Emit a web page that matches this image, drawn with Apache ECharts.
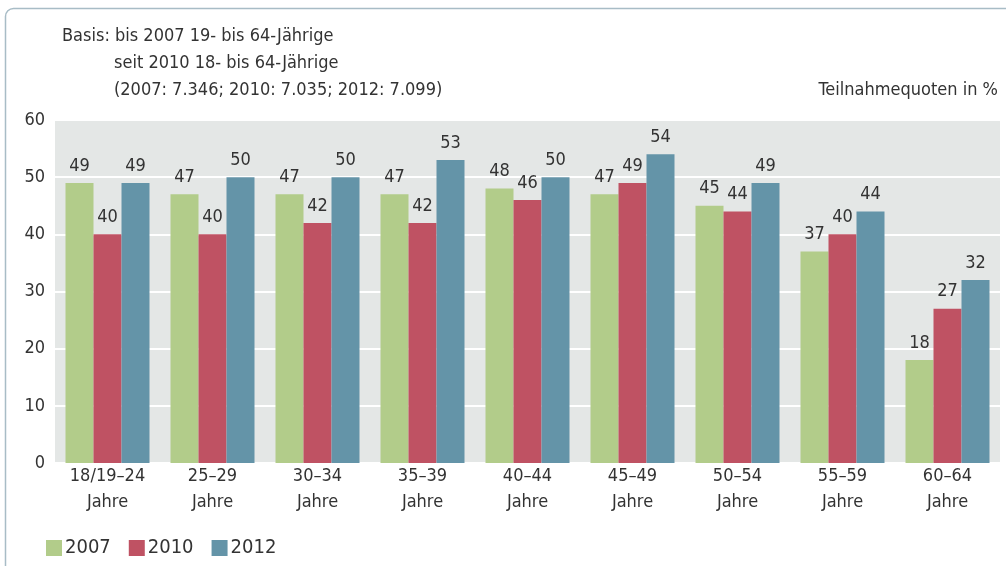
<!DOCTYPE html>
<html>
<head>
<meta charset="utf-8">
<script src="https://cdn.jsdelivr.net/npm/echarts@6/dist/echarts.min.js"></script>
<style>
  html, body { margin: 0; padding: 0; background: #fff; }
  #chart { width: 1006px; height: 566px; }
</style>
</head>
<body>
<div id="chart"></div>
<script>
// Altersgruppen
const categories = ['18/19–24\nJahre', '25–29\nJahre', '30–34\nJahre', '35–39\nJahre', '40–44\nJahre',
  '45–49\nJahre', '50–54\nJahre', '55–59\nJahre', '60–64\nJahre']
const values2007 = [49, 47, 47, 47, 48, 47, 45, 37, 18]
const values2010 = [40, 40, 42, 42, 46, 49, 44, 40, 27]
const values2012 = [49, 50, 50, 53, 50, 54, 49, 44, 32]
const seriesNames = ['2007', '2010', '2012']
const noteLines = ['Basis: bis 2007 19- bis 64-Jährige', 'seit 2010 18- bis 64-Jährige', '(2007: 7.346; 2010: 7.035; 2012: 7.099)']

const font = '"Liberation Sans Narrow", "DejaVu Sans Condensed", "Noto Sans", sans-serif'
const textColor = '#333'
const colors = ['#b2cc8a', '#bf5263', '#6494a8']

const mkSeries = (name, data, i) => ({
  name,
  type: 'bar',
  data,
  barGap: 0,
  barCategoryGap: '20%',
  itemStyle: { color: colors[i] },
  label: { show: true, position: 'top', distance: 8, color: textColor, fontSize: 18, fontFamily: font }
})

const chart = echarts.init(document.getElementById('chart'))
chart.setOption({
  animation: false,
  textStyle: { fontFamily: font },
  graphic: [
    {
      type: 'rect',
      shape: { x: 5.5, y: 8.5, width: 1100, height: 650, r: 8 },
      style: { fill: 'none', stroke: '#a8bcc6', lineWidth: 1.5 },
      z: -10
    },
    {
      type: 'text', left: 62, top: 27,
      style: { text: noteLines[0], fontSize: 18, fill: textColor, fontFamily: font }
    },
    {
      type: 'text', left: 114, top: 54,
      style: { text: noteLines[1], fontSize: 18, fill: textColor, fontFamily: font }
    },
    {
      type: 'text', left: 114, top: 81,
      style: { text: noteLines[2], fontSize: 18, fill: textColor, fontFamily: font }
    },
    {
      type: 'text', right: 8, top: 81,
      style: { text: 'Teilnahmequoten in %', fontSize: 18, fill: textColor, fontFamily: font }
    }
  ],
  legend: {
    data: seriesNames,
    left: 41,
    top: 533,
    itemWidth: 16,
    itemHeight: 16,
    itemGap: 18,
    icon: 'rect',
    textStyle: { color: textColor, fontSize: 20, fontFamily: font, padding: [0, 0, 0, -2] }
  },
  grid: {
    left: 55,
    right: 6,
    top: 120,
    bottom: 103,
    show: true,
    backgroundColor: '#e4e7e6',
    borderWidth: 0
  },
  xAxis: {
    type: 'category',
    data: categories,
    axisLine: { show: false },
    axisTick: { show: false },
    axisLabel: { color: textColor, fontSize: 18, lineHeight: 26, margin: 0, fontFamily: font }
  },
  yAxis: {
    type: 'value',
    min: 0,
    max: 60,
    interval: 10,
    axisLine: { show: false },
    axisTick: { show: false },
    axisLabel: { color: textColor, fontSize: 18, margin: 10, fontFamily: font },
    splitLine: { lineStyle: { color: '#ffffff', width: 2 } }
  },
  series: [
    mkSeries(seriesNames[0], values2007, 0),
    mkSeries(seriesNames[1], values2010, 1),
    mkSeries(seriesNames[2], values2012, 2)
  ]
})
</script>
</body>
</html>
